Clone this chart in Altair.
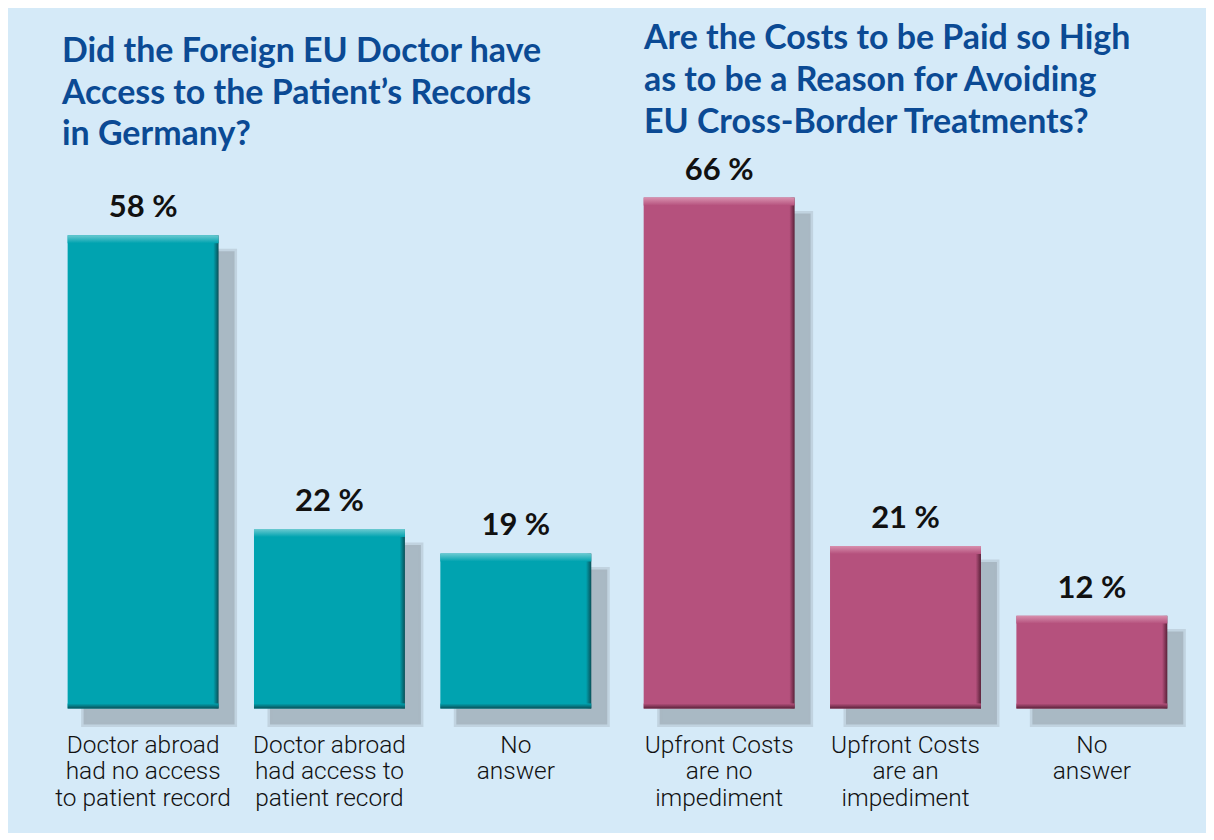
import altair as alt
import pandas as pd

# ---- data ----
left_categories = ["Doctor abroad|had no access|to patient record",
                   "Doctor abroad|had access to|patient record",
                   "No|answer"]
left_values = [58, 22, 19]
left_title = ["Did the Foreign EU Doctor have",
              "Access to the Patient\u2019s Records",
              "in Germany?"]

right_categories = ["Upfront Costs|are no|impediment",
                    "Upfront Costs|are an|impediment",
                    "No|answer"]
right_values = [66, 21, 12]
right_title = ["Are the Costs to be Paid so High",
               "as to be a Reason for Avoiding",
               "EU Cross-Border Treatments?"]

# ---- styles ----
BG = "#d5eaf8"
SHADOW = "#a9b9c4"
TITLE_COLOR = "#0b4a94"
TEAL, TEAL_DARK, TEAL_LIGHT = "#00a3b0", "#0a4f57", "#6ccad1"
PINK, PINK_DARK, PINK_LIGHT = "#b5517d", "#5a2139", "#d890ae"

PLOT_W = 560
PLOT_H = 542


def grad(stops, vertical):
    return alt.Gradient(
        gradient="linear",
        stops=[alt.GradientStop(color=c, offset=o) for c, o in stops],
        x1=0, y1=0,
        x2=0 if vertical else 1,
        y2=1 if vertical else 0,
    )


def panel(cats, vals, title, main, dark, light, ymax, title_dx, title_offset):
    df = pd.DataFrame({"cat": cats, "val": vals})
    df["lbl"] = df["val"].astype(str) + " %"
    df["zero"] = 0

    x = alt.X(
        "cat:N", sort=cats,
        scale=alt.Scale(paddingInner=0.19, paddingOuter=0.095),
        axis=alt.Axis(
            title=None, labelExpr="split(datum.label, '|')", labelAngle=0,
            domain=False, ticks=False, labelFontSize=24.5, labelLineHeight=26.5,
            labelFont="Roboto", labelFontWeight=300, labelColor="#111111",
            labelPadding=25, labelLimit=0,
        ),
    )
    y = alt.Y("val:Q", scale=alt.Scale(domain=[0, ymax], nice=False), axis=None)
    yz = alt.Y("zero:Q", scale=alt.Scale(domain=[0, ymax], nice=False), axis=None)

    base = alt.Chart(df).encode(x=x)

    shadow = base.mark_bar(color=SHADOW, xOffset=16, yOffset=16, y2Offset=16,
                           stroke=SHADOW, strokeWidth=5, strokeOpacity=0.45
                           ).encode(y=y)
    bar = base.mark_bar(
        color=grad([(main, 0), (main, 0.965), (dark, 1)], vertical=False)
    ).encode(y=y)
    bottom = base.mark_bar(
        color=grad([(main, 0), (dark, 1)], vertical=True), yOffset=-5
    ).encode(y=yz, y2=alt.Y2("zero:Q"))
    top = base.mark_bar(
        color=grad([(light, 0), (main, 1)], vertical=True), y2Offset=8
    ).encode(y=y, y2=alt.Y2("val:Q"))
    text = base.mark_text(
        baseline="bottom", dy=-11, fontSize=31, fontWeight="bold",
        font="Lato", color="#111111",
    ).encode(y=y, text="lbl:N")

    return alt.layer(shadow, bar, bottom, top, text).properties(
        width=PLOT_W, height=PLOT_H,
        title=alt.TitleParams(
            text=title, anchor="start", fontSize=34, font="Lato",
            fontWeight="bold", color=TITLE_COLOR, lineHeight=42,
            dx=title_dx, offset=title_offset,
        ),
    )


left = panel(left_categories, left_values, left_title,
             TEAL, TEAL_DARK, TEAL_LIGHT, 66.3, 12, 15)
right = panel(right_categories, right_values, right_title,
              PINK, PINK_DARK, PINK_LIGHT, 69.9, 18, 15)

chart = alt.hconcat(left, right, spacing=16).properties(
    background=BG,
    padding={"left": 42, "top": 13, "right": 20, "bottom": 22},
).configure_view(stroke=None)

chart.save("out.html", embed_options={"renderer": "svg", "actions": False})
